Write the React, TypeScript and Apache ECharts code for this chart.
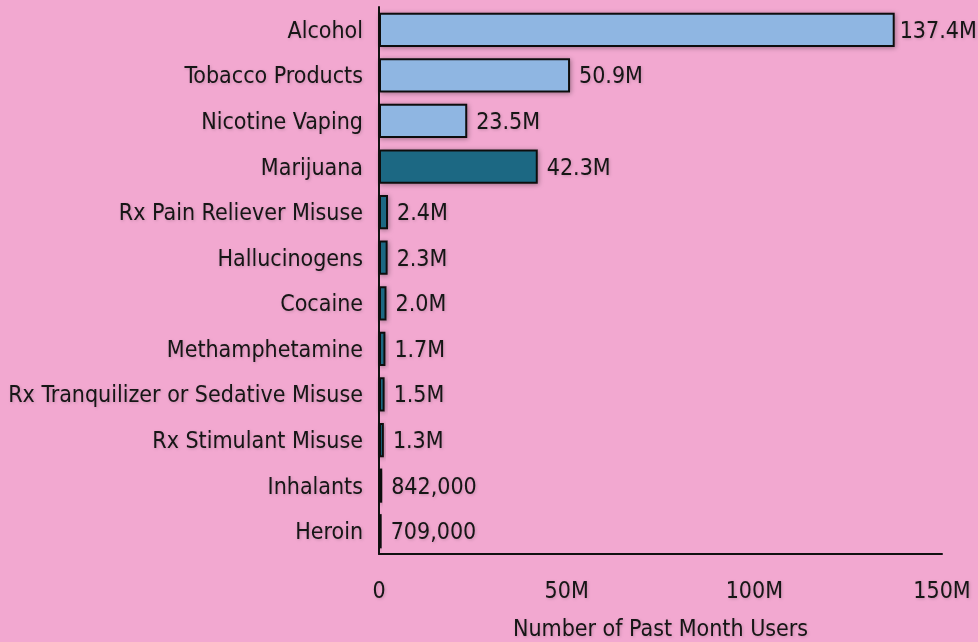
import React, { useEffect, useRef } from "react";
import * as echarts from "echarts";

const categories = [
  "Alcohol",
  "Tobacco Products",
  "Nicotine Vaping",
  "Marijuana",
  "Rx Pain Reliever Misuse",
  "Hallucinogens",
  "Cocaine",
  "Methamphetamine",
  "Rx Tranquilizer or Sedative Misuse",
  "Rx Stimulant Misuse",
  "Inhalants",
  "Heroin",
];
const values = [137.4, 50.9, 23.5, 42.3, 2.4, 2.3, 2.0, 1.7, 1.5, 1.3, 0.842, 0.709];
const valueLabels = ["137.4M", "50.9M", "23.5M", "42.3M", "2.4M", "2.3M", "2.0M", "1.7M", "1.5M", "1.3M", "842,000", "709,000"];
const groupIsLegal = [true, true, true, false, false, false, false, false, false, false, false, false];
const xTicks = [0, 50, 100, 150];

const FONT = "'DejaVu Sans Condensed', 'Liberation Sans Narrow', sans-serif";
const BG = "#f2a8d0";
const LIGHT = "#8fb6e2";
const DARK = "#1b6783";
const FS = 23;

export default function App() {
  const ref = useRef<HTMLDivElement>(null);
  useEffect(() => {
    const chart = echarts.init(ref.current!, null, { renderer: "svg" });
    const textShadow = {
      textShadowColor: "rgba(0,0,0,0.18)",
      textShadowBlur: 3,
      textShadowOffsetX: 1,
      textShadowOffsetY: 1,
    };
    chart.setOption({
      animation: false,
      backgroundColor: BG,
      grid: { left: 379, right: 36, top: 7, bottom: 88, outerBoundsMode: "none", containLabel: false },
      xAxis: {
        type: "value",
        min: xTicks[0],
        max: xTicks[xTicks.length - 1],
        interval: 50,
        axisLine: { show: true, lineStyle: { color: "#111", width: 2 } },
        axisTick: { show: false },
        splitLine: { show: false },
        axisLabel: {
          margin: 24,
          fontFamily: FONT,
          fontSize: FS,
          color: "#141414",
          formatter: (v: number) => (v === 0 ? "0" : v + "M"),
          ...textShadow,
        },
        name: "Number of Past Month Users",
        nameLocation: "middle",
        nameGap: 62,
        nameTextStyle: { fontFamily: FONT, fontSize: FS, color: "#141414", ...textShadow },
      },
      yAxis: {
        type: "category",
        inverse: true,
        data: categories,
        axisLine: { show: true, onZero: false, lineStyle: { color: "#111", width: 2 } },
        axisTick: { show: false },
        axisLabel: {
          margin: 16,
          fontFamily: FONT,
          fontSize: FS,
          color: "#141414",
          ...textShadow,
        },
      },
      series: [
        {
          type: "bar",
          barCategoryGap: "25%",
          data: values.map((v, i) => ({
            value: v,
            itemStyle: { color: groupIsLegal[i] ? LIGHT : DARK },
            label: i === 0 ? { distance: 5 } : undefined,
          })),
          itemStyle: {
            borderColor: "#111",
            borderWidth: 2,
            shadowColor: "rgba(0,0,0,0.35)",
            shadowBlur: 5,
            shadowOffsetX: 1,
            shadowOffsetY: 1,
          },
          label: {
            show: true,
            position: "right",
            distance: 9,
            fontFamily: FONT,
            fontSize: FS,
            color: "#141414",
            formatter: (p: any) => valueLabels[p.dataIndex],
            ...textShadow,
          },
        },
      ],
    });
    return () => chart.dispose();
  }, []);
  return <div ref={ref} style={{ width: 978, height: 642, position: "absolute", left: 0, top: 0 }} />;
}
